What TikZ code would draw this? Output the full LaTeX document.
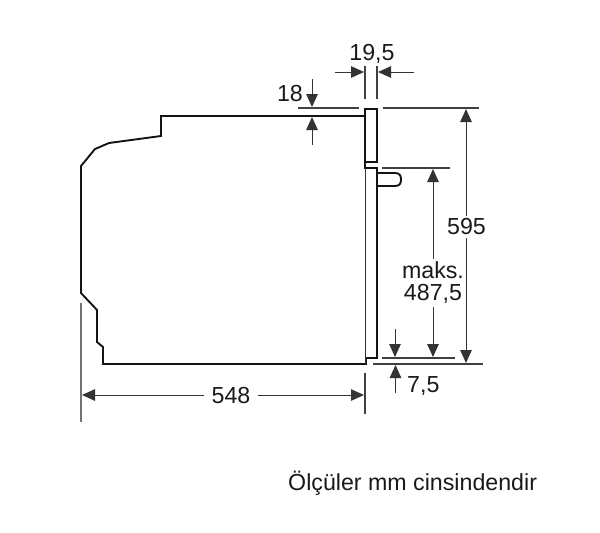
\documentclass[tikz,border=0pt]{standalone}
\usepackage{fontspec}
\setmainfont{Liberation Sans}
\usetikzlibrary{arrows.meta}
\def\ovenbody{(365,116) -- (161,116) -- (161,136) -- (109,143) -- (95,149) -- (81,166) -- (81,293) -- (97,310) -- (97,342) -- (103,347) -- (103,364) -- (366,364) -- (366,358) -- (377,358) -- (377,168) -- (365,168) -- (365,162) -- (377,162) -- (377,109) -- (365,109) -- (365,162)}
\def\ovenhandle{(377,173) -- (395,173) .. controls (400,173) and (401,176) .. (401,179.5) .. controls (401,183) and (400,186) .. (395,186) -- (377,186)}
\tikzset{
  outline/.style={line width=1.9pt,black!92,line join=miter},
  thinline/.style={line width=1pt,black!80},
  extline/.style={line width=1.1pt,black!75},
  ticklineg/.style={line width=1.2pt,black!55},
  dimarrow/.style={line width=1pt,black!80,-{Triangle[length=13pt,width=11.5pt]}},
  dimtext/.style={font=\fontsize{23.2}{22}\selectfont,text=black!90,inner xsep=7pt,inner ysep=3pt,align=center},
}
\begin{document}
\begin{tikzpicture}[x=1pt,y=-1pt]
    \useasboundingbox (0,0) rectangle (600,533);
    \draw[outline] \ovenbody;
    \draw[outline] \ovenhandle;
    \draw[thinline] (365,168) -- (365,364);
    % extension lines
    \draw[extline] (298,108) -- (359,108);
    \draw[extline] (383,108) -- (479,108);
    \draw[extline] (382,168) -- (450,168);
    \draw[extline] (382,358) -- (455,358);
    \draw[extline] (373,364) -- (483,364);
    \draw[extline] (365,66) -- (365,99);
    \draw[extline] (377,66) -- (377,99);
    \draw[extline] (365,373) -- (365,414);
    \draw[ticklineg] (81,303) -- (81,422);
    % dimensions
    \node[dimtext] (width) at (372,54) {19,5};
    \coordinate (widthL) at (335,72);
    \coordinate (widthR) at (414,72);
    \draw[dimarrow] (widthL) -- (364,72);
    \draw[dimarrow] (widthR) -- (378,72);
    \node[dimtext] (panel) at (290,94) {18};
    \coordinate (panelT) at (312,79);
    \coordinate (panelB) at (312,145);
    \draw[dimarrow] (panelT) -- (312,107);
    \draw[dimarrow] (panelB) -- (312,117);
    \node[dimtext] (height) at (466.5,227) {595};
    \coordinate (heightT) at (466,109);
    \coordinate (heightB) at (466,363);
    \draw[dimarrow] (height.north -| heightT) -- (heightT);
    \draw[dimarrow] (height.south -| heightB) -- (heightB);
    \node[dimtext] (maks) at (433,283) {maks.\\487,5};
    \coordinate (maksT) at (433,169);
    \coordinate (maksB) at (433,357);
    \draw[dimarrow] (maks.north -| maksT) -- (maksT);
    \draw[dimarrow] (maks.south -| maksB) -- (maksB);
    \node[dimtext] (depth) at (231,396) {548};
    \coordinate (depthL) at (82,395);
    \coordinate (depthR) at (364,395);
    \draw[dimarrow] (depth.west |- depthL) -- (depthL);
    \draw[dimarrow] (depth.east |- depthR) -- (depthR);
    \coordinate (gapT) at (395,329);
    \draw[dimarrow] (gapT) -- (395,357);
    \node[dimtext,anchor=west,inner xsep=0pt] (gap) at (407,386) {7,5};
    \coordinate (gapB) at (395.5,393);
    \draw[dimarrow] (gapB) -- (395.5,365);
    \node[dimtext,anchor=west,inner xsep=0pt] (note) at (288,483) {Ölçüler mm cinsindendir};
\end{tikzpicture}
\end{document}
